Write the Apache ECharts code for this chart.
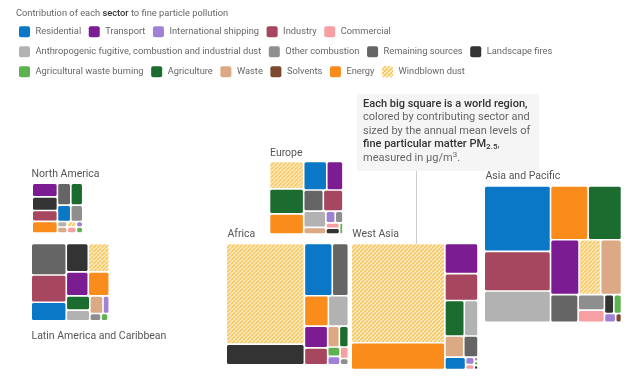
<!DOCTYPE html>
<html><head><meta charset="utf-8">
<script src="https://cdn.jsdelivr.net/npm/echarts@6/dist/echarts.min.js"></script>
<style>html,body{margin:0;padding:0;background:#fff}#c{width:642px;height:383px}</style>
</head><body><div id="c"></div>
<script>
// ---------- data ----------
const sectors = ['Residential','Transport','International shipping','Industry','Commercial',
  'Anthropogenic fugitive, combustion and industrial dust','Other combustion','Remaining sources','Landscape fires',
  'Agricultural waste burning','Agriculture','Waste','Solvents','Energy','Windblown dust'];
const sectorColors = ['#0a77c7','#7b1c93','#a081d6','#a6465f','#f7a0a4',
  '#b2b2b2','#8e8e8e','#656565','#333333',
  '#5db34f','#1c6b2f','#dbaa84','#7c4a31','#fa8c1c','HATCH'];
const legendRows = [
  ['Residential','Transport','International shipping','Industry','Commercial'],
  ['Anthropogenic fugitive, combustion and industrial dust','Other combustion','Remaining sources','Landscape fires'],
  ['Agricultural waste burning','Agriculture','Waste','Solvents','Energy','Windblown dust']
];
const ANTH = 'Anthropogenic fugitive, combustion and industrial dust';

const regionNames = ['North America','Latin America and Caribbean','Europe','Africa','West Asia','Asia and Pacific'];

// annual mean PM2.5 contribution (µg/m³) per sector, in drawing order
const naSectors = ['Transport','Landscape fires','Industry','Energy','Remaining sources','Agriculture','Residential','Other combustion',ANTH,'Waste','Windblown dust','Commercial','International shipping','Agricultural waste burning'];
const naValues  = [1.08,1.07,0.86,0.91,0.92,0.82,0.68,0.61,0.17,0.18,0.16,0.17,0.11,0.12];

const laSectors = ['Remaining sources','Industry','Residential','Landscape fires','Windblown dust','Transport','Energy','Agriculture',ANTH,'Waste','International shipping','Other combustion','Agricultural waste burning','Commercial'];
const laValues  = [3.53,3.05,2.08,2.00,1.90,1.69,1.61,1.07,0.80,0.74,0.35,0.26,0.16,0.03];

const euSectors = ['Windblown dust','Agriculture','Energy','Residential','Transport','Remaining sources','Industry',ANTH,'Waste','International shipping','Other combustion','Commercial','Landscape fires','Agricultural waste burning'];
const euValues  = [2.99,2.72,2.21,2.10,1.47,1.32,1.32,1.15,0.48,0.35,0.29,0.23,0.26,0.12];

const afSectors = ['Windblown dust','Landscape fires','Residential','Remaining sources','Energy',ANTH,'Transport','Industry','Waste','Agriculture','Agricultural waste burning','International shipping','Commercial','Other combustion'];
const afValues  = [25.53,5.27,4.73,2.73,2.36,1.97,1.65,1.28,0.79,0.61,0.38,0.34,0.31,0.17];

const waSectors = ['Windblown dust','Energy','Transport','Industry','Agriculture',ANTH,'Waste','Remaining sources','Residential','International shipping','Commercial','Other combustion','Agricultural waste burning','Landscape fires'];
const waValues  = [30.21,8.15,3.24,2.89,2.24,1.58,1.30,0.98,0.83,0.21,0.14,0.05,0.05,0.05];

const apSectors = ['Residential','Industry',ANTH,'Energy','Agriculture','Transport','Windblown dust','Waste','Remaining sources','Other combustion','Commercial','Landscape fires','Agricultural waste burning','International shipping','Solvents'];
const apValues  = [14.13,8.56,6.79,6.59,5.85,5.10,3.85,3.73,2.50,1.33,1.05,0.58,0.47,0.33,0.17];

// ---------- styling ----------
const AREA_PER_UNIT = 300; // px² per µg/m³
const FONT = 'Roboto, "Noto Sans", sans-serif';
const SMALL = 9.3;

function hatch(size, lw) {
  const c = document.createElement('canvas'); c.width = c.height = size;
  const g = c.getContext('2d');
  g.fillStyle = '#fef5de'; g.fillRect(0, 0, size, size);
  g.strokeStyle = '#f4c456'; g.lineWidth = lw;
  g.beginPath();
  for (let k = -1; k <= 1; k++) { g.moveTo(k * size, size); g.lineTo(k * size + size, 0); }
  g.stroke();
  return c;
}
const hatchCell = {image: hatch(4, 1.6), repeat: 'repeat'};
const hatchIcon = {image: hatch(4, 1.6), repeat: 'repeat'};
function fillFor(name, icon) {
  const c = sectorColors[sectors.indexOf(name)];
  return c === 'HATCH' ? (icon ? hatchIcon : hatchCell) : c;
}

// box anchors (top-left) and label placement for each region
const regionBoxes = {
  'North America': {left: 33, top: 184, lx: 31.5, ly: 174},
  'Latin America and Caribbean': {left: 32, top: 244.3, lx: 31.5, ly: 336},
  'Europe': {left: 270.3, top: 162.3, lx: 270, ly: 153},
  'Africa': {left: 227, top: 244.3, lx: 227.5, ly: 234.3},
  'West Asia': {left: 352, top: 244.3, lx: 352.3, ly: 234.3},
  'Asia and Pacific': {left: 485, top: 186.7, lx: 485.5, ly: 176.5}
};
const regionData = {
  'North America': [naSectors, naValues],
  'Latin America and Caribbean': [laSectors, laValues],
  'Europe': [euSectors, euValues],
  'Africa': [afSectors, afValues],
  'West Asia': [waSectors, waValues],
  'Asia and Pacific': [apSectors, apValues]
};

function treemapSeries(region) {
  const [names, values] = regionData[region];
  const total = values.reduce((a, b) => a + b, 0);
  const side = Math.sqrt(total * AREA_PER_UNIT);
  const b = regionBoxes[region];
  return {
    type: 'treemap', name: region,
    left: b.left, top: b.top, width: side + 0.4, height: side - 0.4,
    sort: false, roam: false, nodeClick: false, silent: true,
    visibleMin: 0, animation: false,
    breadcrumb: {show: false},
    label: {show: false}, upperLabel: {show: false},
    emphasis: {disabled: true},
    itemStyle: {borderWidth: 0, gapWidth: 1.6, borderColor: '#fff'},
    levels: [
      {itemStyle: {borderWidth: 0, gapWidth: 1.6, borderColor: '#fff'}},
      {itemStyle: {borderWidth: 0, borderRadius: 1.5}}
    ],
    data: names.map((n, i) => ({name: n, value: values[i], itemStyle: {color: fillFor(n, false)}}))
  };
}

// ---------- graphic (title, legend, labels, note) ----------
const measure = document.createElement('canvas').getContext('2d');
const graphics = [];
graphics.push({
  type: 'text', x: 16, y: 14,
  style: {
    text: '{a|Contribution of each }{b|sector}{a| to fine particle pollution}',
    verticalAlign: 'middle',
    rich: {
      a: {fontSize: SMALL, fontFamily: FONT, fill: '#666'},
      b: {fontSize: SMALL, fontFamily: FONT, fill: '#333', fontWeight: 500}
    }
  }
});
legendRows.forEach((row, r) => {
  let x = 19;
  const y = 31.7 + r * 20;
  measure.font = SMALL + 'px ' + FONT;
  row.forEach(name => {
    graphics.push({type: 'rect', shape: {x: x, y: y - 5.5, width: 11, height: 11, r: 2}, style: {fill: fillFor(name, true)}});
    graphics.push({type: 'text', x: x + 16.5, y: y, style: {text: name, fontSize: SMALL, fontFamily: FONT, fill: '#666', verticalAlign: 'middle'}});
    x += 16.5 + measure.measureText(name).width + 7.6;
  });
});
regionNames.forEach(rn => {
  const b = regionBoxes[rn];
  graphics.push({type: 'text', x: b.lx, y: b.ly, style: {text: rn, fontSize: 10.5, fontFamily: FONT, fill: '#555', verticalAlign: 'middle'}});
});
graphics.push({type: 'rect', z: 1, shape: {x: 357, y: 94, width: 182, height: 77}, style: {fill: '#f5f5f5'}});
graphics.push({type: 'line', z: 1, shape: {x1: 416.5, y1: 171, x2: 416.5, y2: 244}, style: {stroke: '#cccccc', lineWidth: 1}});
graphics.push({
  type: 'text', z: 2, x: 363, y: 97.3,
  style: {
    text: '{b|Each big square is a world region,}\n{n|colored by contributing sector and}\n{n|sized by the annual mean levels of}\n{b|fine particular matter PM}{bs|2.5}{n|,}\n{n|measured in µg/m}{ns|3}{n|.}',
    verticalAlign: 'top',
    rich: {
      b: {fontSize: 11, fontFamily: FONT, fill: '#333', fontWeight: 500, lineHeight: 13.5},
      n: {fontSize: 11, fontFamily: FONT, fill: '#666', lineHeight: 13.5},
      bs: {fontSize: 8, fontFamily: FONT, fill: '#333', fontWeight: 500, lineHeight: 9, verticalAlign: 'bottom'},
      ns: {fontSize: 8, fontFamily: FONT, fill: '#666', lineHeight: 9, verticalAlign: 'top'}
    }
  }
});

const chart = echarts.init(document.getElementById('c'), null, {renderer: 'canvas'});
chart.setOption({
  animation: false,
  backgroundColor: '#fff',
  graphic: graphics,
  series: regionNames.map(treemapSeries)
});
</script></body></html>
